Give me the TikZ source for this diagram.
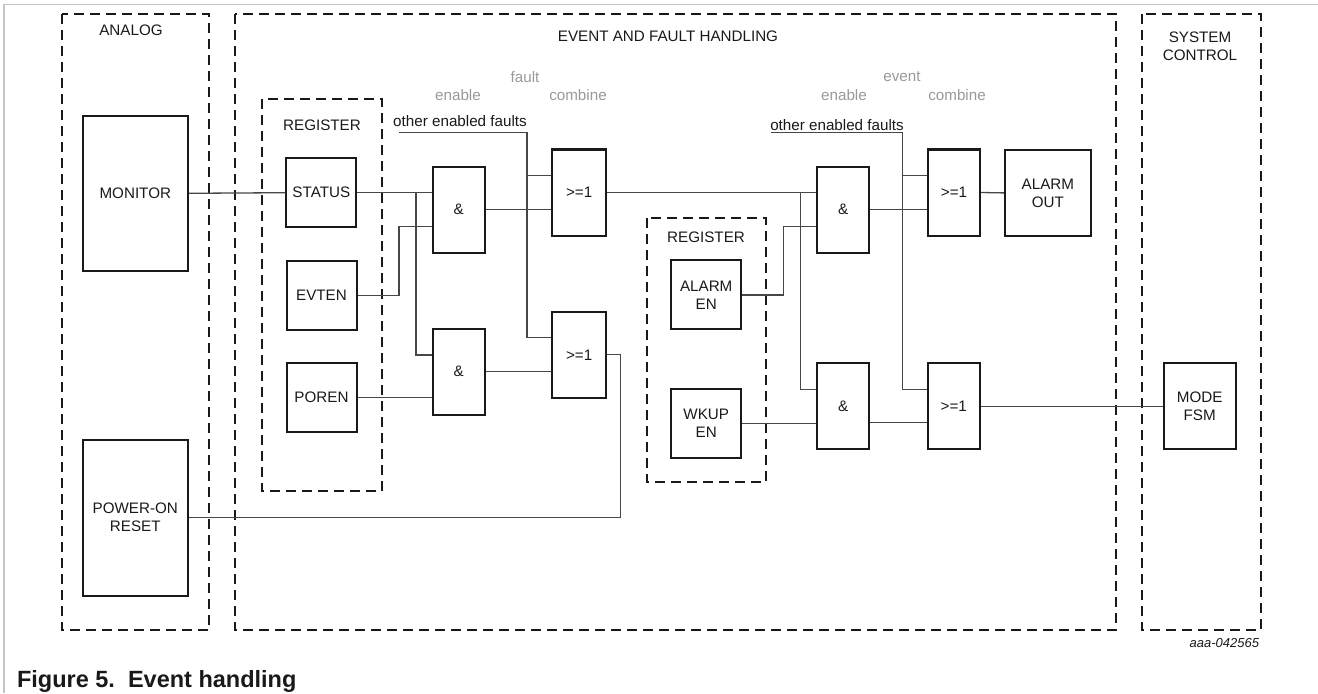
\documentclass[tikz,border=0pt]{standalone}
\usepackage{fontspec}
\setmainfont{Liberation Sans}
\usepackage{tikz}
\usetikzlibrary{calc}

\definecolor{wirecol}{HTML}{474747}
\definecolor{labelgray}{HTML}{999999}
\definecolor{framegray}{HTML}{C4C4C4}

\tikzset{
  every node/.style={font=\fontsize{15.2bp}{18bp}\selectfont, text=black!90},
  region/.style={draw=black!90, line width=2bp, dash pattern=on 10bp off 6bp},
  blk/.style={draw=black!90, line width=2bp, inner sep=0pt, align=center},
  gate/.style={blk, minimum width=52bp, minimum height=86bp},
  reg/.style={blk, minimum width=70bp, minimum height=69bp},
  wire/.style={draw=wirecol, line width=1.3bp},
  lbl/.style={text=labelgray}
}

\begin{document}
\begin{tikzpicture}[x=1bp,y=-1bp]
  \useasboundingbox (0,0) rectangle (1318,693);
  \draw[framegray, line width=1.5bp] (4,693) -- (4,4.5) -- (1318,4.5);

  % dashed regions
  \draw[region] (62,14) rectangle (209,630);
  \draw[region] (235,14) rectangle (1116,630);
  \draw[region] (1142,14) rectangle (1261,630);
  \draw[region] (262,99) rectangle (382,491);
  \draw[region] (647,218) rectangle (766,482);
  \node (analog) at (131,30) {ANALOG};
  \node (efh) at (668,36) {EVENT AND FAULT HANDLING};
  \node[align=center] (sysctl) at (1200,46) {SYSTEM\\CONTROL};
  \node (reg1) at (322,125) {REGISTER};
  \node (reg2) at (706,237) {REGISTER};

  % gray column labels
  \node[lbl] (fault) at (525,77) {fault};
  \node[lbl] (fen) at (458,95) {enable};
  \node[lbl] (fcomb) at (578,95) {combine};
  \node[lbl] (event) at (902,77) {event};
  \node[lbl] (een) at (844,95) {enable};
  \node[lbl] (ecomb) at (957,95) {combine};
  \node (oef1) at (460,121) {other enabled faults};
  \node (oef2) at (837,125) {other enabled faults};

  % blocks
  \node[blk, minimum width=105bp, minimum height=155bp] (monitor) at (135.3,193.3) {MONITOR};
  \node[blk, minimum width=105bp, minimum height=156bp] (por) at (135.3,517.5) {POWER-ON\\RESET};
  \node[reg] (status) at (321.3,192.7) {STATUS};
  \node[reg] (evten) at (321.5,295.2) {EVTEN};
  \node[reg] (poren) at (321.5,397.7) {POREN};
  \node[gate] (and1) at (458.7,209.5) {\&};
  \node[gate] (and2) at (458.7,371.7) {\&};
  \node[gate, minimum width=54bp] (or1) at (579.2,192.5) {>=1};
  \node[gate, minimum width=54bp] (or2) at (579.2,354.8) {>=1};
  \node[reg] (alarmen) at (706.2,294.9) {ALARM\\EN};
  \node[reg] (wkupen) at (706.2,423.2) {WKUP\\EN};
  \node[gate] (and3) at (843.3,209.5) {\&};
  \node[gate] (and4) at (843.2,406.2) {\&};
  \node[gate] (or3) at (954,192.5) {>=1};
  \node[gate] (or4) at (953.8,406.2) {>=1};
  \node[blk, minimum width=86bp, minimum height=86bp] (alarmout) at (1047.9,192.9) {ALARM\\OUT};
  \node[blk, minimum width=72bp, minimum height=86bp] (modefsm) at (1199.7,406.2) {MODE\\FSM};

  % junctions
  \coordinate (j1) at (416,0);
  \coordinate (j2) at (399,226.7);
  \coordinate (j4) at (800.7,0);
  \coordinate (j5) at (783.3,226.7);
  \coordinate (j6) at (620.8,0);
  \coordinate (f1) at (399.3,132.7);
  \coordinate (f2) at (527,132.7);
  \coordinate (g1) at (771,132.7);
  \coordinate (g2) at (902.7,132.7);

  % fault path
  \draw[wire] (monitor.east) -- (status.west);
  \draw[wire] (status.east) -- (status.east -| and1.west);
  \draw[wire] (status.east -| j1) |- ($(and2.west)+(0,-16.7)$);
  \draw[wire] (evten.east) -| (j2) -- (j2 -| and1.west);
  \draw[wire] (poren.east) -- (poren.east -| and2.west);
  \draw[wire] (and1.east) -- (and1.east -| or1.west);
  \draw[wire] (and2.east) -- (and2.east -| or2.west);
  \draw[wire] (f1) -- (f2) |- ($(or2.west)+(0,-17)$);
  \draw[wire] ($(or1.west)+(0,-17)$) -| (f2);
  \draw[wire] (or2.east) -| (j6 |- por.east) -- (por.east);

  % event path
  \draw[wire] (or1.east) -- (or1.east -| and3.west);
  \draw[wire] (or1.east -| j4) |- ($(and4.west)+(0,-17)$);
  \draw[wire] (alarmen.east) -| (j5) -- (j5 -| and3.west);
  \draw[wire] (wkupen.east) -- (wkupen.east -| and4.west);
  \draw[wire] (and3.east) -- (and3.east -| or3.west);
  \draw[wire] ($(and4.east)+(0,16.5)$) -- ($(or4.west)+(0,16.5)$);
  \draw[wire] (g1) -- (g2) |- ($(or4.west)+(0,-17)$);
  \draw[wire] ($(or3.west)+(0,-17)$) -| (g2);
  \draw[wire] (or3.east) -- (alarmout.west);
  \draw[wire] (or4.east) -- (modefsm.west);

  \node[anchor=east, font=\itshape\fontsize{13bp}{15bp}\selectfont] (docid) at (1262.5,642.7) {aaa-042565};
  \node[anchor=west, font=\bfseries\fontsize{23.5bp}{26bp}\selectfont] (caption) at (13.5,681.5) {Figure 5.\ \ Event handling};
\end{tikzpicture}
\end{document}
